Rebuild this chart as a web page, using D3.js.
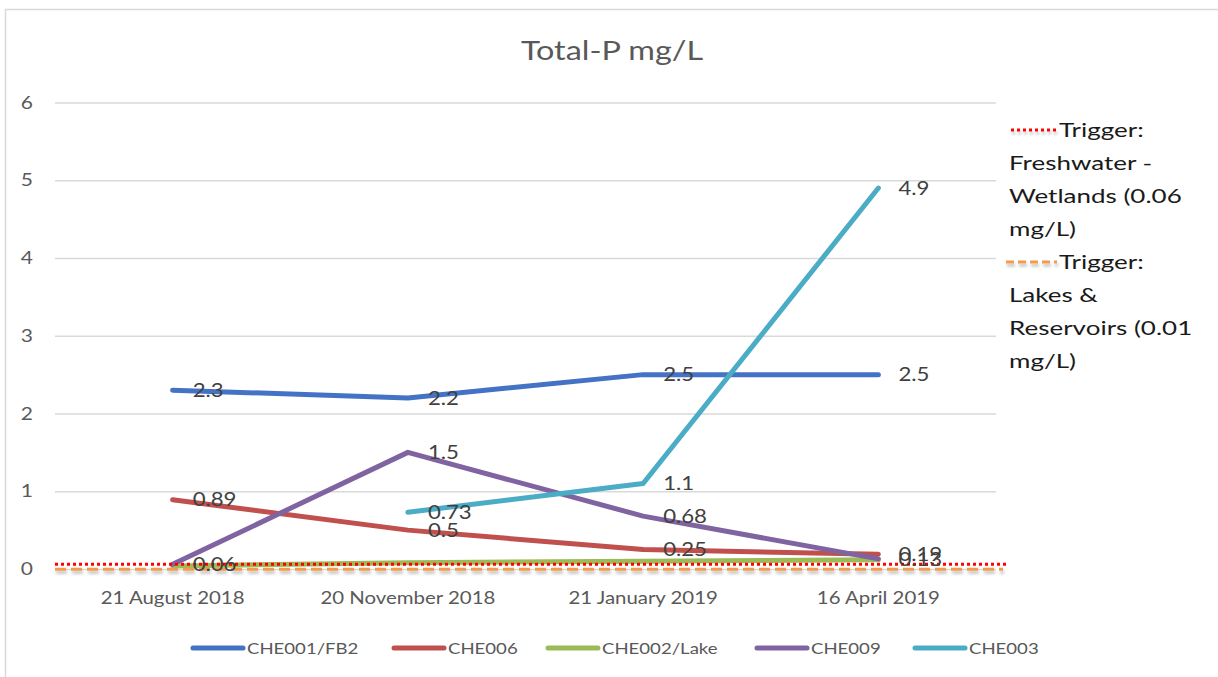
<!DOCTYPE html>
<html>
<head>
<meta charset="utf-8">
<script src="https://cdn.jsdelivr.net/npm/d3@7"></script>
<style>
  html, body { margin: 0; padding: 0; background: #fff; }
  svg { display: block; }
  text { font-family: "Lato", "Noto Sans", sans-serif; }
</style>
</head>
<body>
<svg id="chart" width="1218" height="677"></svg>
<script>
// Sampling dates
const dates = ["21 August 2018", "20 November 2018", "21 January 2019", "16 April 2019"];

// Total-P (mg/L) per site; null = not sampled
const che001 = [2.3, 2.2, 2.5, 2.5];
const che006 = [0.89, 0.5, 0.25, 0.19];
const che002 = [0.04, 0.08, 0.1, 0.12];
const che009 = [0.06, 1.5, 0.68, 0.13];
const che003 = [null, 0.73, 1.1, 4.9];

// Guideline trigger values (mg/L)
const triggerWetlands = 0.06;
const triggerLakes = 0.01;

const yTicks = [0, 1, 2, 3, 4, 5, 6];

const series = [
  { name: "CHE001/FB2", values: che001, color: "#4472C4", labels: true },
  { name: "CHE006", values: che006, color: "#C0504D", labels: true },
  { name: "CHE002/Lake", values: che002, color: "#9BBB59", labels: false },
  { name: "CHE009", values: che009, color: "#8064A2", labels: true },
  { name: "CHE003", values: che003, color: "#4BACC6", labels: true }
];

// Widen text horizontally (the chart's type is set wide)
function widen(sel, sx) {
  sel.each(function () {
    const t = d3.select(this);
    const xv = +t.attr("x") || 0, yv = +t.attr("y") || 0;
    t.attr("x", null).attr("y", null)
      .attr("transform", `translate(${xv},${yv}) scale(${sx},1)`);
  });
  return sel;
}

const svg = d3.select("#chart");

// chart frame
svg.append("path")
  .attr("d", "M5.5,677 V9.5 H1218")
  .attr("fill", "none").attr("stroke", "#d9d9d9").attr("stroke-width", 1.5);

const defs = svg.append("defs");
const shadow = defs.append("filter").attr("id", "shadow")
  .attr("filterUnits", "userSpaceOnUse")
  .attr("x", 0).attr("y", 0).attr("width", 1218).attr("height", 677);
shadow.append("feGaussianBlur").attr("in", "SourceAlpha").attr("stdDeviation", 1.5).attr("result", "b");
shadow.append("feOffset").attr("in", "b").attr("dx", 1).attr("dy", 3).attr("result", "o");
shadow.append("feComponentTransfer").attr("in", "o").attr("result", "s")
  .append("feFuncA").attr("type", "linear").attr("slope", 0.25);
const merge = shadow.append("feMerge");
merge.append("feMergeNode").attr("in", "s");
merge.append("feMergeNode").attr("in", "SourceGraphic");

const plot = { left: 55, right: 996, top: 102.5, bottom: 569 };

const x = d3.scaleBand().domain(dates).range([plot.left, plot.right]);
const cx = d => x(d) + x.bandwidth() / 2;
const y = d3.scaleLinear().domain([0, 6]).range([plot.bottom, plot.top]);

// Title
widen(svg.append("text")
  .attr("x", 612).attr("y", 60)
  .attr("text-anchor", "middle")
  .attr("font-size", 27).attr("fill", "#595959")
  .text("Total-P mg/L"), 1.2);

// Gridlines + y tick labels
const yAxis = d3.axisLeft(y).tickValues(yTicks).tickSize(-(plot.right - plot.left)).tickPadding(22).tickFormat(d3.format("d"));
const gy = svg.append("g").attr("transform", `translate(${plot.left},0)`).call(yAxis);
gy.select(".domain").remove();
gy.selectAll(".tick line").attr("stroke", "#d9d9d9").attr("stroke-width", 1.3);
widen(gy.selectAll(".tick text").attr("font-size", 17.5).attr("fill", "#595959")
  .attr("font-family", "Lato, 'Noto Sans', sans-serif"), 1.2);

// x axis labels
const xAxis = d3.axisBottom(x).tickSize(0).tickPadding(23);
const gx = svg.append("g").attr("transform", `translate(0,${plot.bottom})`).call(xAxis);
gx.select(".domain").remove();
widen(gx.selectAll(".tick text").attr("font-size", 17).attr("fill", "#595959")
  .attr("font-family", "Lato, 'Noto Sans', sans-serif"), 1.2);

// series lines
const line = d3.line()
  .defined(d => d.v != null)
  .x(d => cx(d.date))
  .y(d => y(d.v));

series.forEach(s => {
  const pts = dates.map((date, i) => ({ date, v: s.values[i] }));
  svg.append("path")
    .datum(pts)
    .attr("d", line)
    .attr("fill", "none")
    .attr("stroke", s.color)
    .attr("stroke-width", 5)
    .attr("stroke-linecap", "round")
    .attr("stroke-linejoin", "round");
});

// trigger lines, spanning the plot
const trigExtent = [plot.left, plot.right + 12];
svg.append("line")
  .attr("x1", trigExtent[0]).attr("x2", trigExtent[1] - 5)
  .attr("y1", y(triggerLakes) + 1).attr("y2", y(triggerLakes) + 1)
  .attr("stroke", "#F59A4A").attr("stroke-width", 3)
  .attr("stroke-dasharray", "11,5")
  .attr("filter", "url(#shadow)");
svg.append("line")
  .attr("x1", trigExtent[0]).attr("x2", trigExtent[1])
  .attr("y1", y(triggerWetlands)).attr("y2", y(triggerWetlands))
  .attr("stroke", "#FF0000").attr("stroke-width", 3)
  .attr("stroke-dasharray", "3,3");

// data labels, to the right of each point
series.filter(s => s.labels).forEach(s => {
  dates.forEach((date, i) => {
    const v = s.values[i];
    if (v == null) return;
    widen(svg.append("text")
      .attr("x", cx(date) + 20)
      .attr("y", y(v))
      .attr("dy", "0.36em")
      .attr("font-size", 18.5)
      .attr("fill", "#404040")
      .text(String(v)), 1.2);
  });
});

// bottom legend
const legendItems = series.map(s => s.name);
const legendX = [193, 394, 548, 757, 915];
const lg = svg.append("g");
series.forEach((s, i) => {
  const g = lg.append("g").attr("transform", `translate(${legendX[i]},648)`);
  g.append("line").attr("x1", 0).attr("x2", 50).attr("y1", 0).attr("y2", 0)
    .attr("stroke", s.color).attr("stroke-width", 5).attr("stroke-linecap", "round");
  widen(g.append("text").attr("x", 54).attr("y", 0).attr("dy", "0.36em")
    .attr("font-size", 15.5).attr("fill", "#595959")
    .text(legendItems[i]), 1.2);
});

// right legend for trigger lines
const trigLegend = [
  { lines: ["Trigger:", "Freshwater -", "Wetlands (0.06", "mg/L)"], color: "#FF0000", dash: "3,3", top: 130, x0: 1011 },
  { lines: ["Trigger:", "Lakes &", "Reservoirs (0.01", "mg/L)"], color: "#F59A4A", dash: "8,4", top: 262, x0: 1006 }
];
trigLegend.forEach(t => {
  svg.append("line")
    .attr("x1", t.x0).attr("x2", 1057)
    .attr("y1", t.top).attr("y2", t.top)
    .attr("stroke", t.color).attr("stroke-width", 3)
    .attr("stroke-dasharray", t.dash)
    .attr("filter", "url(#shadow)");
  t.lines.forEach((txt, j) => {
    widen(svg.append("text")
      .attr("x", j === 0 ? 1059 : 1009)
      .attr("y", t.top + j * 33)
      .attr("dy", "0.36em")
      .attr("font-size", 20)
      .attr("fill", "#1a1a1a")
      .text(txt), 1.3);
  });
});
</script>
</body>
</html>
